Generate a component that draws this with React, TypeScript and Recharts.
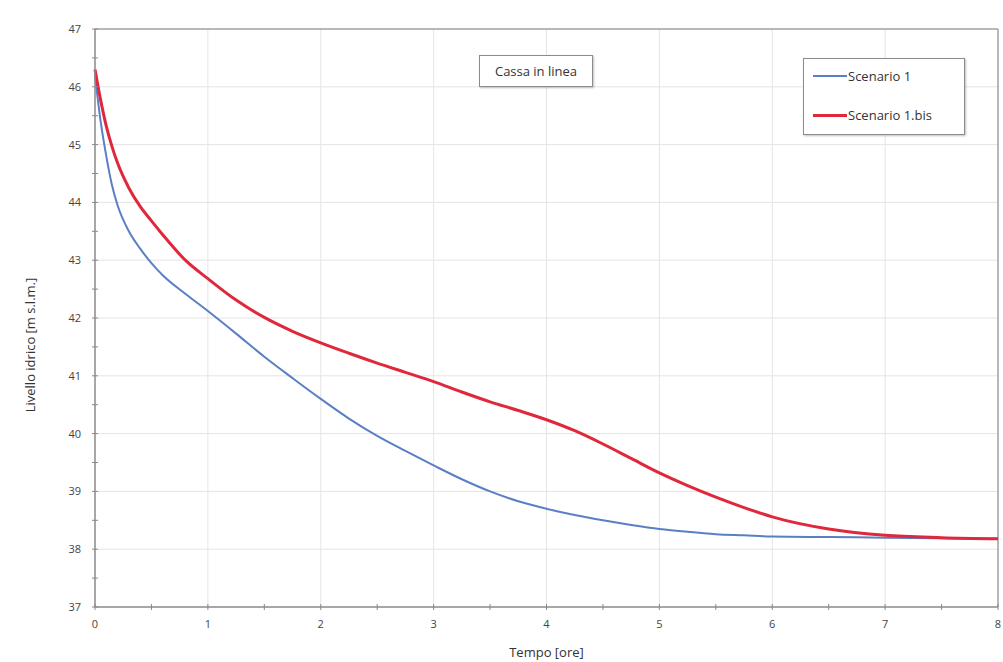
import {
  LineChart,
  Line,
  XAxis,
  YAxis,
  ReferenceLine,
  Label,
} from "recharts";

const TIME = [0, 0.05, 0.1, 0.15, 0.2, 0.3, 0.4, 0.5, 0.6, 0.8, 1, 1.25, 1.5, 1.75, 2, 2.25, 2.5, 2.75, 3, 3.25, 3.5, 3.75, 4, 4.25, 4.5, 4.75, 5, 5.25, 5.5, 5.75, 6, 6.5, 7, 7.5, 8];
const SCENARIO_1 = [46.2, 45.4, 44.8, 44.3, 43.95, 43.5, 43.2, 42.95, 42.74, 42.42, 42.12, 41.73, 41.33, 40.96, 40.6, 40.26, 39.96, 39.7, 39.45, 39.21, 39.0, 38.83, 38.7, 38.59, 38.5, 38.42, 38.35, 38.3, 38.26, 38.24, 38.22, 38.21, 38.2, 38.19, 38.18];
const SCENARIO_1_BIS = [46.3, 45.77, 45.32, 44.97, 44.68, 44.25, 43.93, 43.68, 43.44, 43.0, 42.68, 42.31, 42.01, 41.77, 41.57, 41.39, 41.22, 41.06, 40.9, 40.72, 40.55, 40.4, 40.24, 40.05, 39.82, 39.57, 39.32, 39.1, 38.9, 38.72, 38.56, 38.35, 38.24, 38.2, 38.18];

const X_MAJOR = [1, 2, 3, 4, 5, 6, 7];
const X_TICKS = [0, 0.5, 1, 1.5, 2, 2.5, 3, 3.5, 4, 4.5, 5, 5.5, 6, 6.5, 7, 7.5, 8];
const Y_MAJOR = [38, 39, 40, 41, 42, 43, 44, 45, 46];
const Y_TICKS = [37, 37.5, 38, 38.5, 39, 39.5, 40, 40.5, 41, 41.5, 42, 42.5, 43, 43.5, 44, 44.5, 45, 45.5, 46, 46.5, 47];

const BLUE = "#5a7fc4";
const RED = "#e0283c";
const AXIS = "#8a8a8a";
const GRID = "#e4e4e4";
const FONT = "'Open Sans', sans-serif";

const data = TIME.map((t, i) => ({ t, s1: SCENARIO_1[i], s1bis: SCENARIO_1_BIS[i] }));

const isMajor = (v: number) => Number.isInteger(v);

const XTick = (props: any) => {
  const { x, y, payload } = props;
  const v = payload.value;
  return (
    <g>
      <line x1={x} x2={x} y1={y - 3} y2={y + 3} stroke={AXIS} />
      {isMajor(v) && (
        <text x={x} y={y + 21} textAnchor="middle" fontSize={11} fill="#444" fontFamily={FONT}>
          {v}
        </text>
      )}
    </g>
  );
};

const YTick = (props: any) => {
  const { x, y, payload } = props;
  const v = payload.value;
  return (
    <g>
      <line x1={x - 3} x2={x + 3} y1={y} y2={y} stroke={AXIS} />
      {isMajor(v) && (
        <text x={x - 14} y={y + 4} textAnchor="end" fontSize={11} fill="#444" fontFamily={FONT}>
          {v}
        </text>
      )}
    </g>
  );
};

const boxStyle = {
  position: "absolute" as const,
  border: "1px solid #8c8c8c",
  boxShadow: "1px 1px 2px rgba(0,0,0,0.25)",
  background: "#fff",
  boxSizing: "border-box" as const,
  fontFamily: FONT,
  fontSize: 13,
  color: "#333",
};

const LEGEND_ITEMS = [
  { name: "Scenario 1", color: BLUE, w: 2 },
  { name: "Scenario 1.bis", color: RED, w: 3 },
];

export default function App() {
  return (
    <div style={{ position: "absolute", left: 0, top: 0, width: 1003, height: 662, background: "#fff" }}>
      <LineChart width={1003} height={662} data={data} margin={{ top: 29, right: 5, bottom: 0, left: 0 }}>
        {X_MAJOR.map((v) => (
          <ReferenceLine key={"gx" + v} x={v} stroke={GRID} />
        ))}
        {Y_MAJOR.map((v) => (
          <ReferenceLine key={"gy" + v} y={v} stroke={GRID} />
        ))}
        <XAxis
          dataKey="t"
          type="number"
          domain={[0, 8]}
          ticks={X_TICKS}
          interval={0}
          height={55}
          tickSize={0}
          tickMargin={0}
          tickLine={false}
          tick={<XTick />}
          axisLine={{ stroke: AXIS, strokeWidth: 1.5 }}
        >
          <Label
            value="Tempo [ore]"
            position="insideBottom"
            offset={5}
            style={{ fontFamily: FONT, fontSize: 13, fill: "#333" }}
          />
        </XAxis>
        <YAxis
          type="number"
          domain={[37, 47]}
          ticks={Y_TICKS}
          interval={0}
          width={95}
          tickSize={0}
          tickMargin={0}
          tickLine={false}
          tick={<YTick />}
          axisLine={{ stroke: AXIS, strokeWidth: 1.5 }}
        >
          <Label
            content={({ viewBox }: any) => {
              const cx = viewBox.x + 32;
              const cy = viewBox.y + viewBox.height / 2 + 27;
              return (
                <text
                  x={cx}
                  y={cy}
                  transform={`rotate(-90, ${cx}, ${cy})`}
                  textAnchor="middle"
                  dominantBaseline="middle"
                  fontFamily={FONT}
                  fontSize={13}
                  fill="#333"
                >
                  Livello idrico [m s.l.m.]
                </text>
              );
            }}
          />
        </YAxis>
        <ReferenceLine y={47} stroke="#a0a0a0" strokeWidth={1.5} />
        <ReferenceLine x={8} stroke="#a0a0a0" strokeWidth={1.5} />
        <Line
          type="monotone"
          dataKey="s1"
          name="Scenario 1"
          stroke={BLUE}
          strokeWidth={2}
          dot={false}
          isAnimationActive={false}
        />
        <Line
          type="monotone"
          dataKey="s1bis"
          name="Scenario 1.bis"
          stroke={RED}
          strokeWidth={3}
          dot={false}
          isAnimationActive={false}
        />
      </LineChart>

      {/* title box */}
      <div
        style={{
          ...boxStyle,
          left: 479,
          top: 55,
          width: 114,
          height: 32,
          display: "flex",
          alignItems: "center",
          justifyContent: "center",
        }}
      >
        Cassa in linea
      </div>

      {/* legend box */}
      <div style={{ ...boxStyle, left: 803, top: 58, width: 162, height: 77 }}>
        {LEGEND_ITEMS.map((it, i) => (
          <div
            key={it.name}
            style={{ position: "absolute", left: 9, top: i === 0 ? 8 : 47, display: "flex", alignItems: "center" }}
          >
            <span style={{ display: "inline-block", width: 34, height: it.w, background: it.color }} />
            <span style={{ marginLeft: 1 }}>{it.name}</span>
          </div>
        ))}
      </div>
    </div>
  );
}
